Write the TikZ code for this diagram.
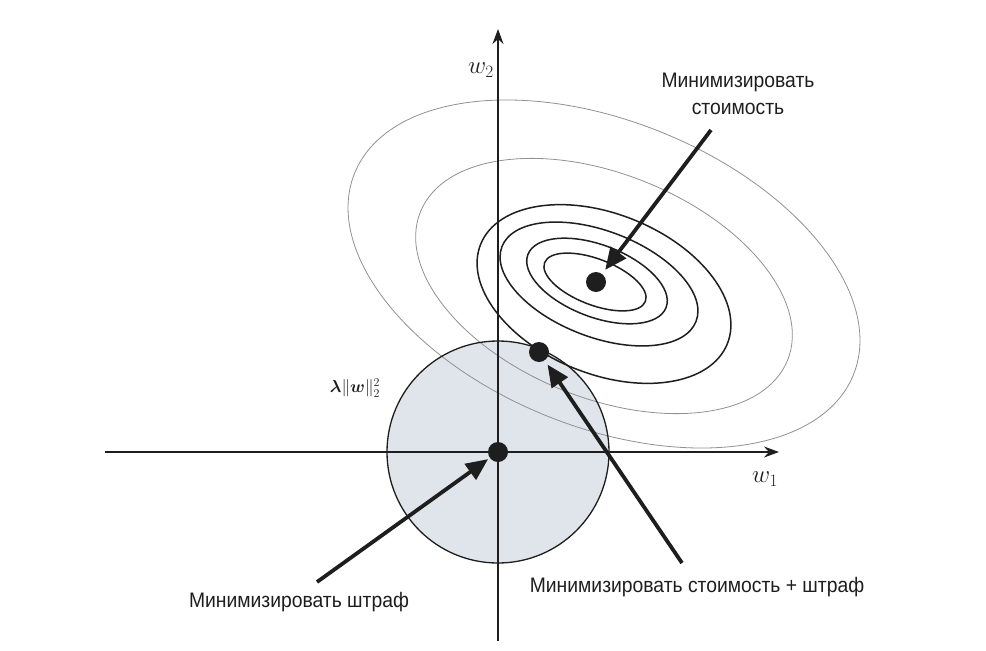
\documentclass[tikz,border=0pt]{standalone}
\usepackage{amsmath}
\usepackage{bm}
\usepackage{fontspec}
\setmainfont{Liberation Sans}[FakeStretch=0.92]
\usetikzlibrary{arrows.meta}
\definecolor{circfill}{RGB}{224,229,235}
\definecolor{inkc}{RGB}{30,30,30}
\definecolor{contgray}{RGB}{145,145,145}
\begin{document}
\begin{tikzpicture}[x=1pt,y=-1pt,
  graycont/.style={draw=contgray, line width=0.8pt},
  blackcont/.style={draw=inkc, line width=1.5pt},
  axisline/.style={draw=inkc, line width=1.4pt, -{Stealth[length=15pt,width=11pt]}},
  callout/.style={draw=inkc, line width=3.8pt, -{Triangle[length=22pt,width=19pt]}, shorten >=5pt},
  dotstyle/.style={circle, fill=inkc, inner sep=0pt, minimum size=20pt},
  lbl/.style={font=\fontsize{21}{27}\selectfont, text=inkc, inner sep=0pt},
  mathlbl/.style={font=\fontsize{24}{28}\selectfont, text=inkc, inner sep=0pt}]
\useasboundingbox (0,0) rectangle (986,651);
% penalty circle fill
\fill[circfill] (498,452) circle[radius=111pt];
% cost contours
\draw[graycont, rotate around={-22:(604,274)}] (604,274) ellipse[x radius=269pt, y radius=153pt];
\draw[graycont, rotate around={-22:(604,286)}] (604,286) ellipse[x radius=198pt, y radius=112pt];
\draw[blackcont, rotate around={-22:(604,294)}] (604,294) ellipse[x radius=133pt, y radius=80pt];
\draw[blackcont, rotate around={-21:(599,284)}] (599,284) ellipse[x radius=104pt, y radius=53pt];
\draw[blackcont, rotate around={-21:(597,281)}] (597,281) ellipse[x radius=74pt, y radius=36pt];
\draw[blackcont, rotate around={-21:(595,282)}] (595,282) ellipse[x radius=54pt, y radius=23pt];
% circle outline
\draw[inkc, line width=1.3pt] (498,452) circle[radius=111pt];
% axes
\coordinate (xl) at (105,452);
\coordinate (xr) at (779,452);
\coordinate (yb) at (498,641);
\coordinate (yt) at (498,29);
\draw[axisline] (xl) -- (xr);
\draw[axisline] (yb) -- (yt);
% points
\node[dotstyle] (o) at (498,452) {};
\node[dotstyle] (d2) at (539,352) {};
\node[dotstyle] (d1) at (596,282) {};
% labels
\node[mathlbl] (w2) at (481,70) {$w_2$};
\node[mathlbl] (w1) at (765,479) {$w_1$};
\node[font=\fontsize{18}{21}\selectfont, text=inkc, inner sep=0pt] (lam) at (355,388) {$\boldsymbol{\lambda}\|\boldsymbol{w}\|_2^2$};
\node[lbl, align=center] (t1) at (738,94) {Минимизировать\\стоимость};
\node[lbl, anchor=base] (t2) at (697,592) {Минимизировать стоимость + штраф};
\node[lbl, anchor=base] (t3) at (299,607) {Минимизировать штраф};
% callout arrows
\coordinate (s1) at (711,130);
\coordinate (s2) at (682,563);
\coordinate (s3) at (317,582);
\draw[callout] (s1) -- (d1);
\draw[callout] (s2) -- (d2);
\draw[callout, shorten >=2pt] (s3) -- (o);
\end{tikzpicture}
\end{document}
